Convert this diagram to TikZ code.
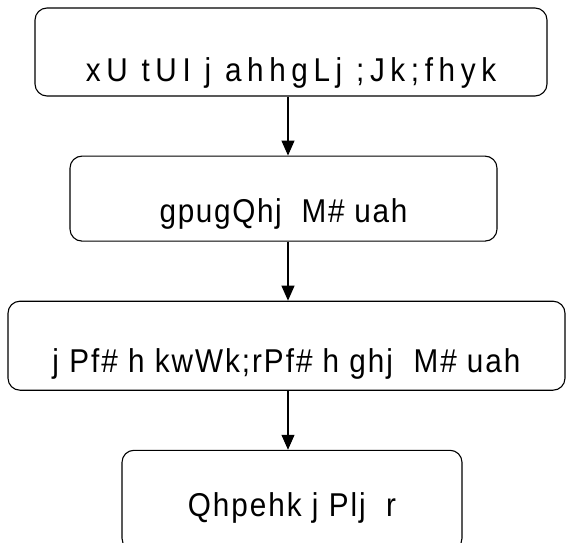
\documentclass[tikz,border=0pt]{standalone}
\usepackage{fontspec}
\setmainfont[FakeStretch=0.9,LetterSpace=10]{Liberation Sans}
\usetikzlibrary{positioning,arrows.meta}

\tikzset{
  stagebox/.style={draw, line width=1.1pt, rounded corners=12pt, align=center,
    font=\fontsize{33}{36}\selectfont, inner sep=0pt},
  flowarrow/.style={-{Triangle[length=15pt,width=13pt]}, line width=1.1pt}
}

\begin{document}
\begin{tikzpicture}[x=1pt,y=1pt]
                    \useasboundingbox (0,0) rectangle (566,-543);
                    % Stages
                    \node[stagebox, minimum width=512pt, minimum height=88pt, text height=74pt, text depth=14pt] (scope) at (291,-52) {\addfontfeature{LetterSpace=17}xU tUI j ahhgLj ;Jk;fhyk};
                    \node[stagebox, minimum width=427pt, minimum height=85pt, text height=66pt, text depth=19pt, below=59pt of scope, xshift=-7.5pt] (plan) {\addfontfeature{LetterSpace=5}gpugQhj\ \ M\# uah};
                    \node[stagebox, minimum width=557pt, minimum height=89pt, text height=71pt, text depth=18pt, below=59pt of plan, xshift=3pt] (build) {\addfontfeature{LetterSpace=6}j Pf\# h kwWk;rPf\# h ghj\ \ M\# uah};
                    \node[stagebox, minimum width=340pt, minimum height=100pt, text height=66pt, text depth=34pt, below=59pt of build, xshift=5.5pt] (result) {\addfontfeature{LetterSpace=6}Qhpehk j Plj\ \ r};

                    % Arrows
                    \draw[flowarrow] (scope.south -| 288,0) -- (plan.north -| 288,0);
                    \draw[flowarrow] (plan.south -| 288,0) -- (build.north -| 288,0);
                    \draw[flowarrow] (build.south -| 288,0) -- (result.north -| 288,0);
                \end{tikzpicture}
\end{document}
